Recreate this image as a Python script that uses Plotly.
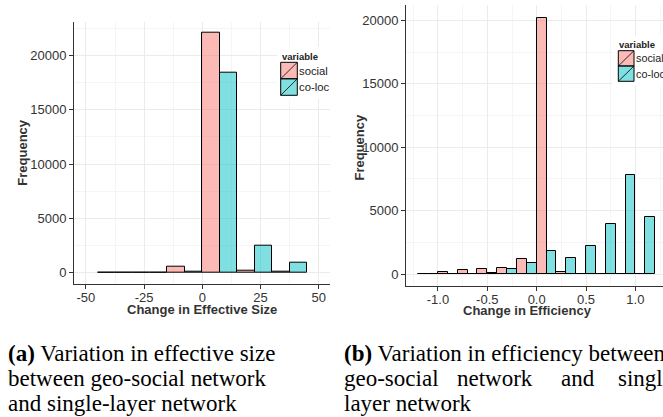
import plotly.graph_objects as go

W, H = 663, 417

# ---------------- data ----------------
es_centers = [-37.5, -22.5, -7.5, 7.5, 22.5, 37.5]
es_social = [10, 10, 540, 22050, 230, 50]
es_coloc = [10, 10, 60, 18430, 2500, 910]

ef_centers = [-1.1, -0.9, -0.7, -0.5, -0.3, -0.1, 0.1, 0.3, 0.5, 0.7, 0.9, 1.1]
ef_social = [10, 190, 350, 430, 500, 1160, 20200, 170, 20, 30, 10, 10]
ef_coloc = [10, 10, 25, 110, 400, 900, 1815, 1260, 2185, 3945, 7800, 4500]

es_xticks = [-50, -25, 0, 25, 50]
es_xticktext = ["-50", "-25", "0", "25", "50"]
ef_xticks = [-1.0, -0.5, 0.0, 0.5, 1.0]
ef_xticktext = ["-1.0", "-0.5", "0.0", "0.5", "1.0"]
yticks = [0, 5000, 10000, 15000, 20000]
yticktext = ["0", "5000", "10000", "15000", "20000"]

series_names = ["social", "co-loc"]
fill_colors = ["rgba(248,118,109,0.5)", "rgba(0,191,196,0.5)"]

# ---------------- helpers ----------------
def X(px):
    return px / W

def Y(py):
    return 1 - py / H

SANS = "Liberation Sans, Arial, Helvetica, sans-serif"
SERIF = "Liberation Serif, Times New Roman, serif"
AX = "#333333"
GRID = "#EBEBEB"
MINOR = "#F5F5F5"

fig = go.Figure()
for name, col, vals in zip(series_names, fill_colors, [es_social, es_coloc]):
    fig.add_trace(go.Bar(x=es_centers, y=vals, name=name, xaxis="x", yaxis="y",
                         marker=dict(color=col, line=dict(color="black", width=1)),
                         showlegend=False, hoverinfo="skip"))
for name, col, vals in zip(series_names, fill_colors, [ef_social, ef_coloc]):
    fig.add_trace(go.Bar(x=ef_centers, y=vals, name=name, xaxis="x2", yaxis="y2",
                         marker=dict(color=col, line=dict(color="black", width=1)),
                         showlegend=False, hoverinfo="skip"))

tickfont = dict(family=SANS, size=13, color=AX)

def xaxis(domain, rng, vals, text, minor_dtick, anchor):
    return dict(domain=domain, range=rng, anchor=anchor, tickmode="array",
                tickvals=vals, ticktext=text, tickfont=tickfont,
                showline=True, linecolor=AX, linewidth=1, ticks="outside",
                ticklen=4, tickcolor=AX, tickwidth=1, showgrid=True,
                gridcolor=GRID, gridwidth=1, zeroline=False,
                ticklabelstandoff=-3,
                minor=dict(tickmode="linear", dtick=minor_dtick, tick0=0,
                           showgrid=True, gridcolor=MINOR, gridwidth=0.6, ticks=""),
                fixedrange=True)

def yaxis(domain, rng, anchor):
    return dict(domain=domain, range=rng, anchor=anchor, tickmode="array",
                tickvals=yticks, ticktext=yticktext, tickfont=tickfont,
                showline=True, linecolor=AX, linewidth=1, ticks="outside",
                ticklen=4, tickcolor=AX, tickwidth=1, showgrid=True,
                gridcolor=GRID, gridwidth=1, zeroline=False,
                minor=dict(tickmode="linear", dtick=2500, tick0=0,
                           showgrid=True, gridcolor=MINOR, gridwidth=0.6, ticks=""),
                fixedrange=True)

fig.update_layout(
    width=W, height=H, margin=dict(l=0, r=0, t=0, b=0, pad=0),
    paper_bgcolor="white", plot_bgcolor="white",
    barmode="group", bargap=0, bargroupgap=0,
    xaxis=xaxis([X(74), X(330)], [-55.1, 54.8], es_xticks, es_xticktext, 12.5, "y"),
    yaxis=yaxis([Y(284), Y(21.7)], [-1040, 23100], "x"),
    xaxis2=xaxis([X(406), 1.0], [-1.324, 1.280], ef_xticks, ef_xticktext, 0.25, "y2"),
    yaxis2=yaxis([Y(286), Y(5)], [-946, 21215], "x2"),
    showlegend=False,
)

ann = []
shapes = []

def text(t, px, py, size, bold=False, family=SANS, angle=0, xanchor="center", color=AX):
    if bold:
        t = "<b>" + t + "</b>"
    ann.append(dict(text=t, x=X(px), y=Y(py), xref="paper", yref="paper",
                    showarrow=False, xanchor=xanchor, yanchor="middle",
                    textangle=angle, font=dict(family=family, size=size, color=color),
                    borderpad=0))

# axis titles
text("Frequency", 22.7, 152, 13, bold=True, angle=-90)
text("Change in Effective Size", 202, 309.5, 13, bold=True)
text("Frequency", 358.5, 147, 13, bold=True, angle=-90)
text("Change in Efficiency", 527, 310.5, 13, bold=True)

# legends (drawn as shapes)
def legend(x0, ytitle, y0, sw, sh, bg, fs, gap):
    shapes.append(dict(type="rect", xref="paper", yref="paper", x0=X(bg[0]), x1=X(bg[1]),
                       y0=Y(bg[3]), y1=Y(bg[2]), fillcolor="white", line=dict(width=0),
                       layer="above"))
    text("variable", x0, ytitle, 9.5, bold=True, xanchor="left", color="#222")
    for i, (name, col) in enumerate(zip(series_names, fill_colors)):
        top = y0 + i * sh
        bot = top + sh
        shapes.append(dict(type="rect", xref="paper", yref="paper", x0=X(x0), x1=X(x0 + sw),
                           y0=Y(bot), y1=Y(top), fillcolor=col,
                           line=dict(color="black", width=1), layer="above"))
        shapes.append(dict(type="line", xref="paper", yref="paper", x0=X(x0), x1=X(x0 + sw),
                           y0=Y(bot), y1=Y(top), line=dict(color="black", width=0.8),
                           layer="above"))
        text(name, x0 + sw + gap, (top + bot) / 2, fs, xanchor="left", color="#222")

legend(280.7, 56, 62.3, 16.6, 16.5, (277, 333, 47, 99), 11.3, 1.0)
legend(618.3, 44, 50.7, 15.7, 15.3, (613, 663, 36, 86), 10.8, 0.5)

# captions
CS = 23
def cap(t, px, baseline):
    text(t, px, baseline - 0.3375 * CS, CS, family=SERIF, xanchor="left", color="black")

cap("<b>(a)</b> Variation in effective size", 7.3, 361.5)
cap("between geo-social network", 7.3, 386.5)
cap("and single-layer network", 7.3, 411.5)
cap("<b>(b)</b> Variation in efficiency between", 343.3, 361.5)
cap("geo-social", 343.3, 386.5)
cap("network", 456, 386.5)
cap("and", 560, 386.5)
cap("single-", 617, 386.5)
cap("layer network", 343.3, 411.5)

fig.update_layout(annotations=ann, shapes=shapes)

fig.write_html("out.html", config={"displayModeBar": False},
               post_script="document.body.style.margin='0';document.body.style.overflow='hidden';")
